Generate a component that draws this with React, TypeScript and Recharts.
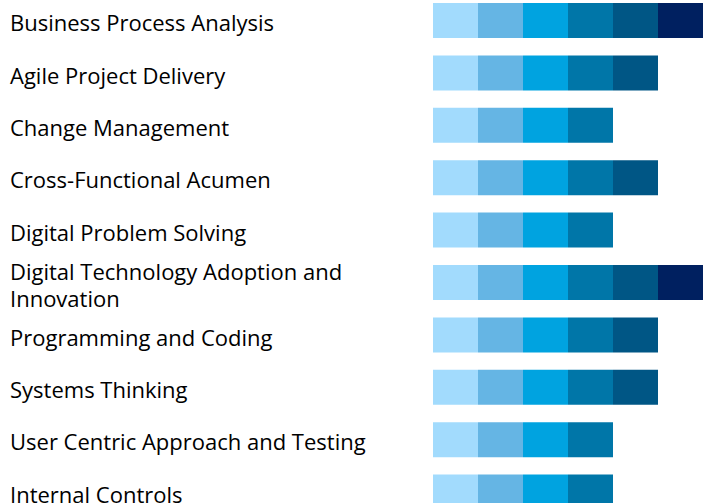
import { BarChart, Bar, XAxis, YAxis } from "recharts"

const skills = [
  "Business Process Analysis",
  "Agile Project Delivery",
  "Change Management",
  "Cross-Functional Acumen",
  "Digital Problem Solving",
  "Digital Technology Adoption and Innovation",
  "Programming and Coding",
  "Systems Thinking",
  "User Centric Approach and Testing",
  "Internal Controls",
]

// one segment per proficiency level reached
const level1 = [1, 1, 1, 1, 1, 1, 1, 1, 1, 1]
const level2 = [1, 1, 1, 1, 1, 1, 1, 1, 1, 1]
const level3 = [1, 1, 1, 1, 1, 1, 1, 1, 1, 1]
const level4 = [1, 1, 1, 1, 1, 1, 1, 1, 1, 1]
const level5 = [1, 1, 0, 1, 0, 1, 1, 1, 0, 0]
const level6 = [1, 0, 0, 0, 0, 1, 0, 0, 0, 0]

const levelColors = ["#a2dbfd", "#65b5e4", "#00a3e0", "#0076a8", "#005685", "#002060"]

const data = skills.map((name, i) => ({
  name,
  l1: level1[i],
  l2: level2[i],
  l3: level3[i],
  l4: level4[i],
  l5: level5[i],
  l6: level6[i],
}))

function wrap(label: string, max: number) {
  const words = label.split(" ")
  const lines: string[] = []
  let cur = ""
  for (const w of words) {
    const next = cur ? cur + " " + w : w
    if (next.length > max && cur) {
      lines.push(cur)
      cur = w
    } else {
      cur = next
    }
  }
  if (cur) lines.push(cur)
  return lines
}

function SkillTick({ y, payload }: any) {
  const lines = wrap(payload.value, 36)
  const lh = 27
  const start = y + 2 - ((lines.length - 1) * lh) / 2
  return (
    <text
      x={10}
      y={start}
      textAnchor="start"
      dominantBaseline="central"
      fill="#000"
      fontSize={22}
      fontFamily="'Open Sans', sans-serif"
    >
      {lines.map((l, i) => (
        <tspan key={i} x={10} y={start + i * lh} dominantBaseline="central">
          {l}
        </tspan>
      ))}
    </text>
  )
}

export default function App() {
  return (
    <div
      style={{
        position: "absolute",
        left: 0,
        top: 0,
        width: 703,
        height: 503,
        overflow: "hidden",
        background: "#fff",
      }}
    >
      <div style={{ position: "relative", top: -6 }}>
        <BarChart
          width={703}
          height={524}
          data={data}
          layout="vertical"
          barCategoryGap={0}
          barSize={35}
          margin={{ top: 0, right: 0, bottom: 0, left: 0 }}
        >
          <XAxis type="number" domain={[0, 6]} hide />
          <YAxis
            type="category"
            dataKey="name"
            width={433}
            axisLine={false}
            tickLine={false}
            tick={<SkillTick />}
            interval={0}
          />
          {["l1", "l2", "l3", "l4", "l5", "l6"].map((k, i) => (
            <Bar
              key={k}
              dataKey={k}
              stackId="a"
              fill={levelColors[i]}
              isAnimationActive={false}
            />
          ))}
        </BarChart>
      </div>
    </div>
  )
}
